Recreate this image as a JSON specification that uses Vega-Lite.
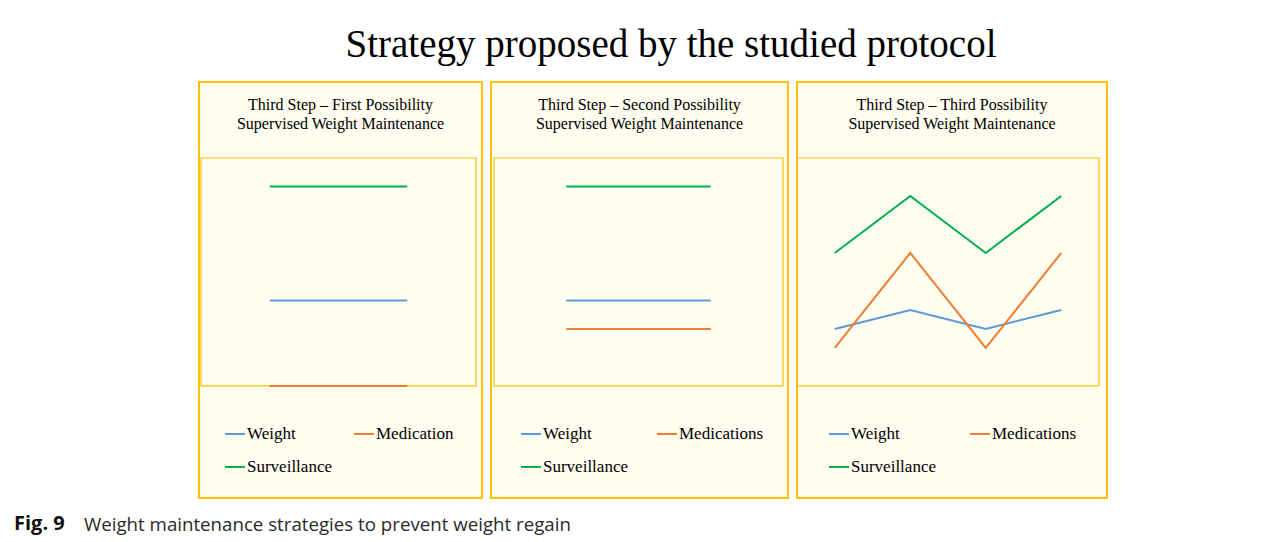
{
  "$schema": "https://vega.github.io/schema/vega-lite/v6.json",
  "background": "white",
  "padding": {"left": 14, "top": 26, "right": 10, "bottom": 5},
  "title": {
    "text": "Strategy proposed by the studied protocol",
    "font": "Liberation Serif",
    "fontSize": 39,
    "fontWeight": "normal",
    "color": "black",
    "anchor": "middle",
    "frame": "bounds",
    "dx": 110,
    "baseline": "alphabetic",
    "offset": -15
  },
  "config": {
    "view": {"stroke": "#FFC000", "strokeWidth": 2, "fill": "#fffcf0"},
    "legend": {
      "orient": "none",
      "direction": "horizontal",
      "columns": 2,
      "symbolType": "stroke",
      "symbolSize": 400,
      "symbolStrokeWidth": 2,
      "labelFont": "Liberation Serif",
      "labelFontSize": 17,
      "labelColor": "black",
      "labelOffset": 1,
      "rowPadding": 14,
      "padding": 0,
      "title": null
    }
  },
  "vconcat": [
    {
      "title": {
        "text": "Weight maintenance strategies to prevent weight regain",
        "orient": "bottom",
        "anchor": "start",
        "frame": "bounds",
        "font": "Open Sans",
        "fontSize": 18.7,
        "fontWeight": "normal",
        "color": "#2a2a2a",
        "baseline": "alphabetic",
        "dx": 70,
        "offset": -3
      },
      "vconcat": [
        {
          "title": {
            "text": "Fig. 9",
            "orient": "bottom",
            "anchor": "start",
            "frame": "bounds",
            "font": "Open Sans",
            "fontSize": 20,
            "fontWeight": "bold",
            "color": "#111",
            "baseline": "alphabetic",
            "dx": -184,
            "offset": 31
          },
          "spacing": 9,
          "bounds": "flush",
          "resolve": {
            "scale": {"color": "independent", "x": "independent", "y": "independent"},
            "legend": {"color": "independent"}
          },
          "hconcat": [
            {
              "width": 283,
              "height": 416,
              "title": {
                "text": ["Third Step – First Possibility", "Supervised Weight Maintenance"],
                "font": "Liberation Serif",
                "fontSize": 16,
                "fontWeight": "normal",
                "color": "black",
                "anchor": "middle",
                "baseline": "top",
                "lineHeight": 19,
                "offset": -50
              },
              "layer": [
                {
                  "data": {"values": [{"box": "plot area"}]},
                  "mark": {"type": "rect", "fill": "transparent", "stroke": "#FFC000", "strokeWidth": 1.2},
                  "encoding": {
                    "x": {"datum": 0.5, "type": "quantitative", "scale": {"domain": [0.4855, 2.5437], "nice": false, "zero": false}, "axis": null},
                    "x2": {"datum": 2.5},
                    "y": {"datum": 0, "type": "quantitative", "scale": {"domain": [-5.9, 16], "nice": false, "zero": false}, "axis": null},
                    "y2": {"datum": 12}
                  }
                },
                {
                  "data": {"values": [
                    {"series": "Weight", "step": 1, "value": 4.5},
                    {"series": "Weight", "step": 2, "value": 4.5},
                    {"series": "Medication", "step": 1, "value": 0},
                    {"series": "Medication", "step": 2, "value": 0},
                    {"series": "Surveillance", "step": 1, "value": 10.5},
                    {"series": "Surveillance", "step": 2, "value": 10.5}
                  ]},
                  "mark": {"type": "line", "strokeWidth": 2},
                  "encoding": {
                    "x": {"field": "step", "type": "quantitative", "scale": {"domain": [0.4855, 2.5437], "nice": false, "zero": false}, "axis": null},
                    "y": {"field": "value", "type": "quantitative", "scale": {"domain": [-5.9, 16], "nice": false, "zero": false}, "axis": null},
                    "color": {
                      "field": "series", "type": "nominal",
                      "scale": {"domain": ["Weight", "Medication", "Surveillance"], "range": ["#5B9BD5", "#ED7D31", "#00B050"]},
                      "legend": {"legendX": 25, "legendY": 341, "columnPadding": 18}
                    }
                  }
                }
              ]
            },
            {
              "width": 297,
              "height": 416,
              "title": {
                "text": ["Third Step – Second Possibility", "Supervised Weight Maintenance"],
                "font": "Liberation Serif",
                "fontSize": 16,
                "fontWeight": "normal",
                "color": "black",
                "anchor": "middle",
                "baseline": "top",
                "lineHeight": 19,
                "offset": -50
              },
              "layer": [
                {
                  "data": {"values": [{"box": "plot area"}]},
                  "mark": {"type": "rect", "fill": "transparent", "stroke": "#FFC000", "strokeWidth": 1.2},
                  "encoding": {
                    "x": {"datum": 0.5, "type": "quantitative", "scale": {"domain": [0.4792, 2.5346], "nice": false, "zero": false}, "axis": null},
                    "x2": {"datum": 2.5},
                    "y": {"datum": 0, "type": "quantitative", "scale": {"domain": [-5.9, 16], "nice": false, "zero": false}, "axis": null},
                    "y2": {"datum": 12}
                  }
                },
                {
                  "data": {"values": [
                    {"series": "Weight", "step": 1, "value": 4.5},
                    {"series": "Weight", "step": 2, "value": 4.5},
                    {"series": "Medications", "step": 1, "value": 3},
                    {"series": "Medications", "step": 2, "value": 3},
                    {"series": "Surveillance", "step": 1, "value": 10.5},
                    {"series": "Surveillance", "step": 2, "value": 10.5}
                  ]},
                  "mark": {"type": "line", "strokeWidth": 2},
                  "encoding": {
                    "x": {"field": "step", "type": "quantitative", "scale": {"domain": [0.4792, 2.5346], "nice": false, "zero": false}, "axis": null},
                    "y": {"field": "value", "type": "quantitative", "scale": {"domain": [-5.9, 16], "nice": false, "zero": false}, "axis": null},
                    "color": {
                      "field": "series", "type": "nominal",
                      "scale": {"domain": ["Weight", "Medications", "Surveillance"], "range": ["#5B9BD5", "#ED7D31", "#00B050"]},
                      "legend": {"legendX": 29, "legendY": 341, "columnPadding": 25}
                    }
                  }
                }
              ]
            },
            {
              "width": 310,
              "height": 416,
              "title": {
                "text": ["Third Step – Third Possibility", "Supervised Weight Maintenance"],
                "font": "Liberation Serif",
                "fontSize": 16,
                "fontWeight": "normal",
                "color": "black",
                "anchor": "middle",
                "baseline": "top",
                "lineHeight": 19,
                "offset": -50
              },
              "layer": [
                {
                  "data": {"values": [{"box": "plot area"}]},
                  "mark": {"type": "rect", "fill": "transparent", "stroke": "#FFC000", "strokeWidth": 1.2},
                  "encoding": {
                    "x": {"datum": 0.5, "type": "quantitative", "scale": {"domain": [0.5, 4.606], "nice": false, "zero": false}, "axis": null},
                    "x2": {"datum": 4.5},
                    "y": {"datum": 0, "type": "quantitative", "scale": {"domain": [-5.9, 16], "nice": false, "zero": false}, "axis": null},
                    "y2": {"datum": 12}
                  }
                },
                {
                  "data": {"values": [
                    {"series": "Weight", "step": 1, "value": 3},
                    {"series": "Weight", "step": 2, "value": 4},
                    {"series": "Weight", "step": 3, "value": 3},
                    {"series": "Weight", "step": 4, "value": 4},
                    {"series": "Medications", "step": 1, "value": 2},
                    {"series": "Medications", "step": 2, "value": 7},
                    {"series": "Medications", "step": 3, "value": 2},
                    {"series": "Medications", "step": 4, "value": 7},
                    {"series": "Surveillance", "step": 1, "value": 7},
                    {"series": "Surveillance", "step": 2, "value": 10},
                    {"series": "Surveillance", "step": 3, "value": 7},
                    {"series": "Surveillance", "step": 4, "value": 10}
                  ]},
                  "mark": {"type": "line", "strokeWidth": 2},
                  "encoding": {
                    "x": {"field": "step", "type": "quantitative", "scale": {"domain": [0.5, 4.606], "nice": false, "zero": false}, "axis": null},
                    "y": {"field": "value", "type": "quantitative", "scale": {"domain": [-5.9, 16], "nice": false, "zero": false}, "axis": null},
                    "color": {
                      "field": "series", "type": "nominal",
                      "scale": {"domain": ["Weight", "Medications", "Surveillance"], "range": ["#5B9BD5", "#ED7D31", "#00B050"]},
                      "legend": {"legendX": 31, "legendY": 341, "columnPadding": 30}
                    }
                  }
                }
              ]
            }
          ]
        }
      ]
    }
  ]
}
